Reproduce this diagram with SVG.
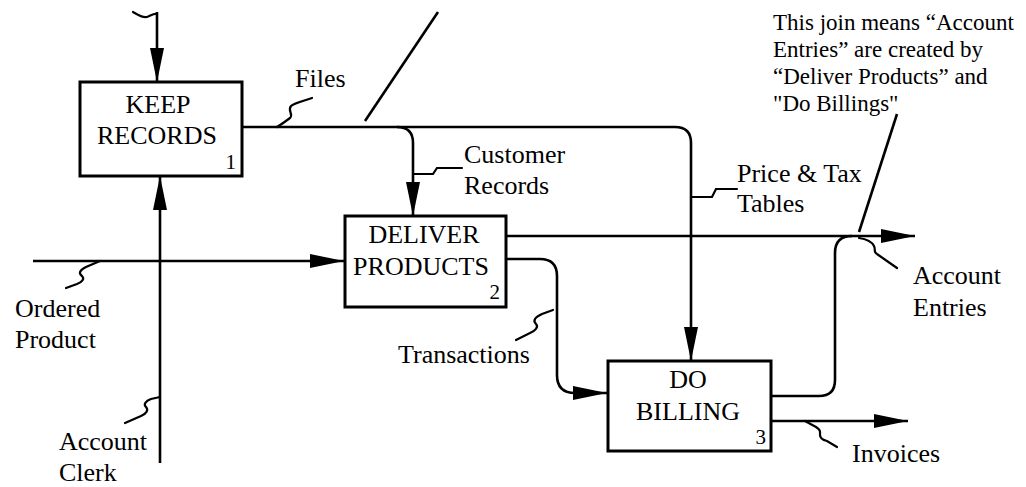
<svg xmlns="http://www.w3.org/2000/svg" width="1026" height="487" viewBox="0 0 1026 487">
<style>
.box{fill:#fff;stroke:#000;stroke-width:3}
.ln{fill:none;stroke:#000;stroke-width:2.6}
.sq{fill:none;stroke:#000;stroke-width:2.2;stroke-linecap:round}
.t{font-family:"Liberation Serif","Times New Roman",serif;font-size:26px;fill:#000}
.c{text-anchor:middle}
.n{font-family:"Liberation Serif","Times New Roman",serif;font-size:21px;fill:#000;text-anchor:end}
.a{font-family:"Liberation Serif","Times New Roman",serif;font-size:23px;fill:#000}
</style>
<defs>
<marker id="arr" markerUnits="userSpaceOnUse" markerWidth="34" markerHeight="14" refX="34" refY="7" orient="auto">
<path d="M0,0 L34,7 L0,14 z" fill="#000"/>
</marker>
</defs>
<g id="connectors">
<!-- control into KEEP RECORDS -->
<path class="ln" d="M157,12 V82" marker-end="url(#arr)"/>
<path class="sq" d="M133,12 C138,15 142,18 147,17 C151,16 153,13 157,14"/>
<!-- mechanism into KEEP RECORDS -->
<path class="ln" d="M160,463 V176" marker-end="url(#arr)"/>
<path class="sq" d="M160,397 L151,399 C146,401 143,404 146,407 C149,410 146,414 141,416 L125,423"/>
<!-- Ordered Product -->
<path class="ln" d="M33,261 H344" marker-end="url(#arr)"/>
<path class="sq" d="M100,261 L86,267 C80,270 78,273 82,276 C85,279 82,282 77,284 L66,288"/>
<!-- Files -->
<path class="ln" d="M242,127 H675 Q691,127 691,143 V361" marker-end="url(#arr)"/>
<path class="ln" d="M397,127 Q413,127 413,143 V216" marker-end="url(#arr)"/>
<path class="sq" d="M277,127 C282,124 286,121 290,118 C294,114 287,111 291,106 C294,103 303,101 312,98"/>
<path class="ln" d="M365,121 L438,12"/>
<!-- Customer Records squiggle -->
<path class="sq" d="M414,174 H433 L437,168 H462"/>
<!-- Price & Tax squiggle -->
<path class="sq" d="M692,197 H712 L716,189 H737"/>
<!-- Deliver products to Account Entries -->
<path class="ln" d="M506,236 H915" marker-end="url(#arr)"/>
<!-- Transactions -->
<path class="ln" d="M506,259 H540 Q557,259 557,276 V375 Q557,393 575,393 H607" marker-end="url(#arr)"/>
<path class="sq" d="M553,310 L542,314 C536,317 532,320 536,324 C539,327 535,331 530,333 L516,340"/>
<!-- DO BILLING to Account Entries join -->
<path class="ln" d="M771,396 H819 Q835,396 835,380 V253 Q835,236 852,236"/>
<path class="sq" d="M859,238 C866,239 872,242 874,246 C876,250 873,252 877,254 L897,268"/>
<path class="ln" d="M859,232 L897,114"/>
<!-- Invoices -->
<path class="ln" d="M771,421 H908" marker-end="url(#arr)"/>
<path class="sq" d="M805,421 L816,427 C821,430 820,432 820,435 C820,438 823,440 827,441 L837,447"/>
</g>
<g id="keep-records">
<rect class="box" x="80" y="82" width="162" height="94"/>
<text class="t c" x="158" y="113">KEEP</text>
<text class="t c" x="157" y="144">RECORDS</text>
<text class="n" x="236" y="169">1</text>
</g>
<g id="deliver-products">
<rect class="box" x="345" y="216" width="161" height="91"/>
<text class="t c" x="424" y="243">DELIVER</text>
<text class="t c" x="421" y="275">PRODUCTS</text>
<text class="n" x="500" y="299">2</text>
</g>
<g id="do-billing">
<rect class="box" x="608" y="361" width="163" height="90"/>
<text class="t c" x="688" y="388">DO</text>
<text class="t c" x="688" y="420">BILLING</text>
<text class="n" x="766" y="444">3</text>
</g>
<g id="labels">
<text class="t" x="295" y="87">Files</text>
<text class="t" x="464" y="163">Customer</text>
<text class="t" x="464" y="194">Records</text>
<text class="t" x="737" y="182">Price &amp; Tax</text>
<text class="t" x="737" y="212">Tables</text>
<text class="t" x="15" y="317">Ordered</text>
<text class="t" x="15" y="348">Product</text>
<text class="t" x="398" y="363">Transactions</text>
<text class="t" x="59" y="450">Account</text>
<text class="t" x="59" y="481">Clerk</text>
<text class="t" x="913" y="284">Account</text>
<text class="t" x="913" y="316">Entries</text>
<text class="t" x="852" y="462">Invoices</text>
<text class="a" x="773" y="30">This join means “Account</text>
<text class="a" x="773" y="57">Entries” are created by</text>
<text class="a" x="773" y="84">“Deliver Products” and</text>
<text class="a" x="773" y="111">"Do Billings"</text>
</g>
</svg>
